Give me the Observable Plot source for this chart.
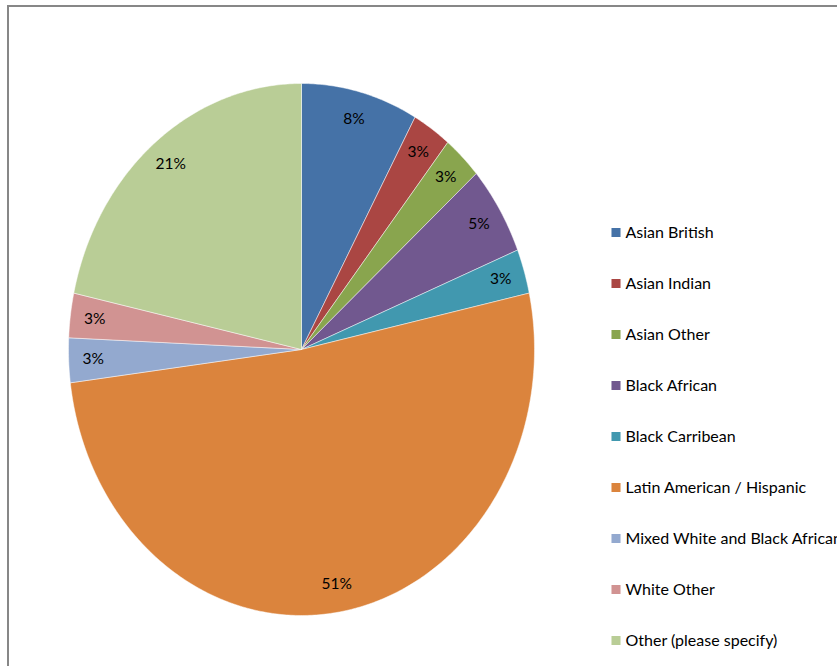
<!DOCTYPE html>
<html>
<head>
<meta charset="utf-8">
<script src="https://cdn.jsdelivr.net/npm/d3@7"></script>
<script src="https://cdn.jsdelivr.net/npm/@observablehq/plot@0.6"></script>
<style>
  html, body { margin: 0; padding: 0; background: #fff; overflow: hidden; width: 837px; height: 666px; }
  #frame { position: absolute; left: 7px; top: 5px; width: 900px; height: 720px; border: 2px solid #878787; box-sizing: border-box; }
  #pie { position: absolute; left: 0; top: 0; }
  #legend { position: absolute; left: 600px; top: 200px; }
  svg { font-family: Lato, "Open Sans", sans-serif; }
</style>
</head>
<body>
<div id="frame"></div>
<div id="pie"></div>
<div id="legend"></div>
<script>
const categories = ["Asian British", "Asian Indian", "Asian Other", "Black African", "Black Carribean",
  "Latin American / Hispanic", "Mixed White and Black African", "White Other", "Other (please specify)"];
const shares = [8.1, 2.7, 2.7, 5.4, 2.7, 51.4, 2.7, 2.7, 21.6];
const sliceLabels = ["8%", "3%", "3%", "5%", "3%", "51%", "3%", "3%", "21%"];
const colors = ["#4572A7", "#AA4643", "#89A54E", "#71588F", "#4198AF", "#DB843D", "#93A9CF", "#D19392", "#B9CD96"];

const arcs = d3.pie().sort(null).value(d => d.v)(categories.map((c, i) => ({c, v: shares[i]})));

// polygon vertices for each slice (angles clockwise from 12 o'clock)
const slicePts = [];
arcs.forEach(a => {
  const n = Math.max(4, Math.ceil((a.endAngle - a.startAngle) / 0.01));
  slicePts.push({cat: a.data.c, x: 0, y: 0});
  for (let k = 0; k <= n; k++) {
    const t = a.startAngle + (a.endAngle - a.startAngle) * k / n;
    slicePts.push({cat: a.data.c, x: Math.sin(t), y: Math.cos(t)});
  }
  slicePts.push({cat: a.data.c, x: 0, y: 0});
});
const labelPts = arcs.map((a, i) => {
  const m = (a.startAngle + a.endAngle) / 2;
  const r = 0.895;
  return {x: r * Math.sin(m), y: r * Math.cos(m), text: sliceLabels[i]};
});

const color = {type: "ordinal", domain: categories, range: colors};

const pie = Plot.plot({
  width: 837, height: 666,
  marginLeft: 68, marginRight: 303, marginTop: 83, marginBottom: 51,
  x: {domain: [-1, 1], axis: null},
  y: {domain: [-1, 1], axis: null},
  color,
  marks: [
    Plot.line(slicePts, {x: "x", y: "y", z: "cat", fill: "cat", stroke: "white", strokeWidth: 0.6, strokeOpacity: 0.8}),
    Plot.text(labelPts, {x: "x", y: "y", text: "text", fill: "#000", fontSize: 15.5})
  ]
});
document.getElementById("pie").appendChild(pie);

const legend = Plot.plot({
  width: 237, height: 470,
  marginLeft: 0, marginRight: 0, marginTop: 0, marginBottom: 0,
  y: {type: "point", domain: categories, range: [30, 441], padding: 0, axis: null},
  color,
  marks: [
    Plot.dot(categories, {y: d => d, frameAnchor: "left", dx: 15.5, symbol: "square", r: 5.1, fill: d => d, stroke: null}),
    Plot.text(categories, {y: d => d, frameAnchor: "left", dx: 25, text: d => d, textAnchor: "start", fill: "#000", fontSize: 16})
  ]
});
legend.style.overflow = "visible";
document.getElementById("legend").appendChild(legend);
</script>
</body>
</html>
